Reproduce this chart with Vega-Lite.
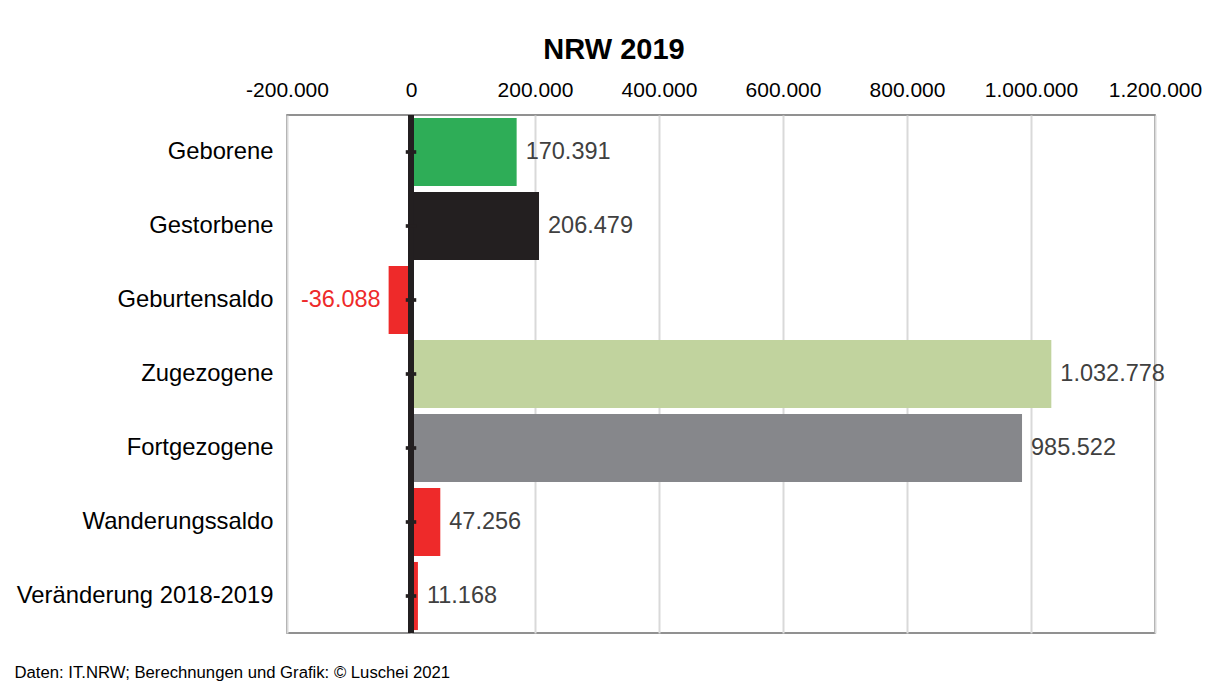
{
  "$schema": "https://vega.github.io/schema/vega-lite/v6.json",
  "width": 868,
  "height": 518,
  "autosize": {"type": "none"},
  "padding": {"left": 287, "top": 115, "right": 60, "bottom": 53},
  "background": "white",
  "title": {
    "text": "NRW 2019",
    "font": "Liberation Sans",
    "fontSize": 29,
    "fontWeight": "bold",
    "color": "black",
    "anchor": "middle",
    "frame": "group",
    "dx": -107,
    "offset": 14
  },
  "config": {
    "locale": {
      "number": {"decimal": ",", "thousands": ".", "grouping": [3], "currency": ["", " €"], "minus": "-"}
    },
    "font": "Liberation Sans",
    "view": {"stroke": "#6d6d6d", "strokeWidth": 1.5},
    "axis": {"labelFont": "Liberation Sans", "titleFont": "Liberation Sans"}
  },
  "data": {
    "values": [
      {"Merkmal": "Geborene", "Wert": 170391},
      {"Merkmal": "Gestorbene", "Wert": 206479},
      {"Merkmal": "Geburtensaldo", "Wert": -36088},
      {"Merkmal": "Zugezogene", "Wert": 1032778},
      {"Merkmal": "Fortgezogene", "Wert": 985522},
      {"Merkmal": "Wanderungssaldo", "Wert": 47256},
      {"Merkmal": "Veränderung 2018-2019", "Wert": 11168}
    ]
  },
  "encoding": {
    "y": {
      "field": "Merkmal",
      "type": "nominal",
      "sort": null,
      "scale": {"paddingInner": 0.08, "paddingOuter": 0.04},
      "axis": {
        "title": null,
        "domain": false,
        "ticks": false,
        "labelFontSize": 23.8,
        "labelColor": "black",
        "labelPadding": 14,
        "labelLimit": 400
      }
    }
  },
  "layer": [
    {
      "mark": {"type": "bar"},
      "encoding": {
        "x": {
          "field": "Wert",
          "type": "quantitative",
          "scale": {"domain": [-200000, 1200000], "nice": false, "zero": false},
          "axis": {
            "orient": "top",
            "title": null,
            "values": [-200000, 0, 200000, 400000, 600000, 800000, 1000000, 1200000],
            "format": ",d",
            "domain": false,
            "ticks": false,
            "tickSize": 0,
            "labelPadding": 19,
            "labelBaseline": "alphabetic",
            "labelFontSize": 21,
            "labelColor": "black",
            "labelFlush": false,
            "grid": true,
            "gridColor": "#d9d9d9",
            "gridWidth": 2
          }
        },
        "color": {
          "field": "Merkmal",
          "type": "nominal",
          "legend": null,
          "scale": {
            "domain": ["Geborene", "Gestorbene", "Geburtensaldo", "Zugezogene", "Fortgezogene", "Wanderungssaldo", "Veränderung 2018-2019"],
            "range": ["#2ead57", "#231f20", "#ee2a2a", "#c1d39e", "#86878b", "#ee2a2a", "#ee2a2a"]
          }
        }
      }
    },
    {
      "mark": {"type": "rule", "color": "#231f20", "strokeWidth": 5},
      "encoding": {"x": {"datum": 0, "type": "quantitative", "axis": null}, "y": null}
    },
    {
      "mark": {"type": "point", "shape": "M-1,-0.35H1V0.35H-1Z", "size": 110, "filled": true, "color": "#231f20", "opacity": 1},
      "encoding": {"x": {"datum": 0, "type": "quantitative", "axis": null}}
    },
    {
      "transform": [{"filter": "datum.Wert >= 0"}],
      "mark": {"type": "text", "align": "left", "baseline": "middle", "dx": 9, "fontSize": 23.5, "color": "#404040"},
      "encoding": {
        "x": {
          "field": "Wert",
          "type": "quantitative",
          "axis": {
            "orient": "bottom",
            "labels": false,
            "ticks": false,
            "domain": false,
            "grid": false,
            "title": "Daten: IT.NRW; Berechnungen und Grafik: © Luschei 2021",
            "titleFontSize": 16.7,
            "titleFontWeight": "normal",
            "titleColor": "black",
            "titleAlign": "left",
            "titleBaseline": "alphabetic",
            "titleAnchor": "start",
            "titleX": -273,
            "titleY": 44
          }
        },
        "text": {"field": "Wert", "type": "quantitative", "format": ",d"}
      }
    },
    {
      "transform": [{"filter": "datum.Wert < 0"}],
      "mark": {"type": "text", "align": "right", "baseline": "middle", "dx": -8, "fontSize": 23.5, "color": "#ee2a2a"},
      "encoding": {
        "x": {"field": "Wert", "type": "quantitative", "axis": null},
        "text": {"field": "Wert", "type": "quantitative", "format": ",d"}
      }
    }
  ],
  "resolve": {"axis": {"x": "independent"}}
}
